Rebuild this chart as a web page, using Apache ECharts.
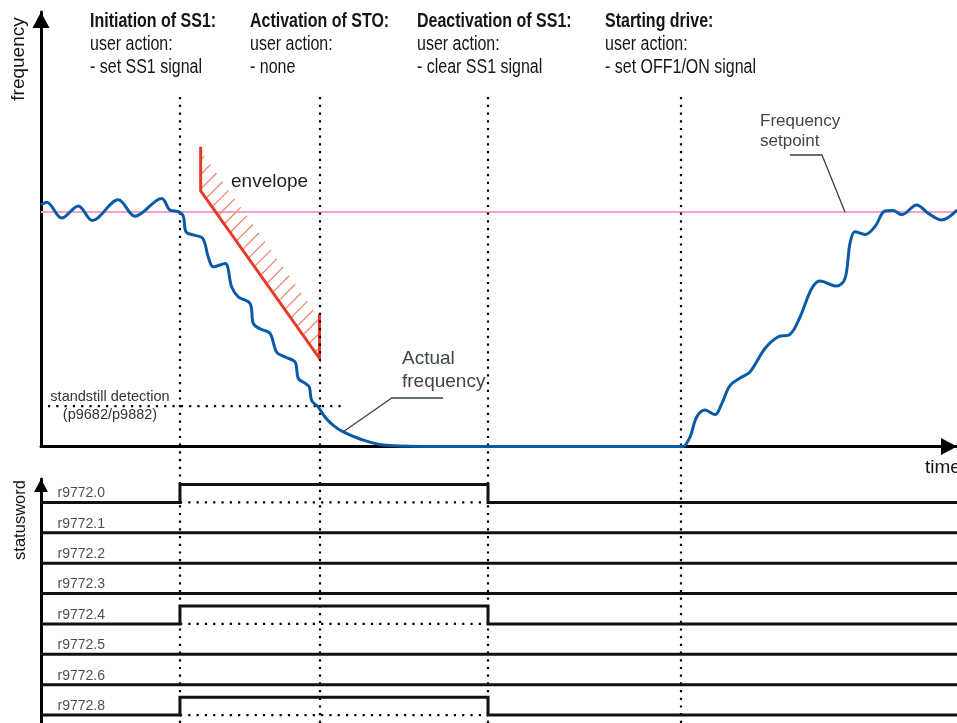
<!DOCTYPE html>
<html>
<head>
<meta charset="utf-8">
<script src="https://cdn.jsdelivr.net/npm/echarts@6/dist/echarts.min.js"></script>
<style>
  html, body { margin: 0; padding: 0; background: #fff; }
  #chart { width: 957px; height: 723px; }
</style>
</head>
<body>
<div id="chart"></div>
<script>
// Time runs on an arbitrary 0..100 scale, frequency in Hz (setpoint 50 Hz).
const setpointHz = 50;
const standstillHz = 8.6;
const standstillSpan = [0.76, 33.0];

// Events: SS1 initiation, STO activation, SS1 deactivation, drive start
const eventTimes = [15.17, 30.4, 48.8, 69.87];
const eventTitles = ['Initiation of SS1:', 'Activation of STO:', 'Deactivation of SS1:', 'Starting drive:'];
const eventActions = ['- set SS1 signal', '- none', '- clear SS1 signal', '- set OFF1/ON signal'];

// Actual frequency trace
const actualTime = [0, 0.62, 2.26, 4.07, 5.60, 8.44, 10.26, 13.18, 14.08, 14.99, 15.53, 15.83, 16.63, 17.65,
  18.26, 18.81, 20.09, 20.82, 21.54, 22.82, 23.18, 23.91, 25.0, 25.73, 26.64, 27.73, 28.09, 28.82, 29.29,
  29.55, 30.27, 31.0, 31.91, 33.0, 34.83, 37.37, 41.4, 69.87, 70.1, 70.85, 71.58, 72.49, 73.58, 74.31,
  75.22, 76.5, 77.4, 79.04, 80.49, 81.77, 82.86, 84.14, 85.04, 86.87, 87.77, 88.32, 88.86, 89.96, 91.05,
  92.14, 93.04, 93.96, 95.6, 96.87, 98.33, 100];
const actualHz = [51.5, 52.1, 48.7, 51.3, 48.2, 52.6, 49.1, 52.9, 50.4, 50.1, 49.1, 45.8, 45.1, 44.4,
  40.4, 38.3, 39.0, 34.0, 31.9, 30.5, 26.2, 25.1, 24.1, 20.1, 19.1, 18.0, 14.5, 13.5, 12.7,
  9.8, 8.4, 6.3, 4.5, 3.1, 1.6, 0.3, 0, 0, 0, 2.0, 6.3, 7.8, 6.8, 9.1,
  13.0, 14.8, 15.9, 20.9, 23.4, 23.9, 27.6, 33.7, 35.3, 34.2, 35.8, 43.3, 45.8, 45.2, 46.9,
  50.2, 50.3, 49.4, 51.5, 49.7, 48.3, 50.4];

// SS1 braking envelope
const envelopeTime = [17.43, 17.43, 30.4, 30.4];
const envelopeHz = [63.9, 54.5, 18.8, 28.2];

// Leader lines for the annotations
const actualLeaderTime = [43.89, 38.29, 33.0];
const actualLeaderHz = [10.34, 10.34, 3.16];
const setpointLeaderTime = [81.77, 85.26, 87.77];
const setpointLeaderHz = [62.15, 62.15, 50];

// Statusword bits
const statusBits = ['r9772.0', 'r9772.1', 'r9772.2', 'r9772.3', 'r9772.4', 'r9772.5', 'r9772.6', 'r9772.8'];
const bitStateTimes = [0, 15.17, 48.8, 100];
const bitLevels = [
  [0, 1, 0, 0],
  [0, 0, 0, 0],
  [0, 0, 0, 0],
  [0, 0, 0, 0],
  [0, 1, 0, 0],
  [0, 0, 0, 0],
  [0, 0, 0, 0],
  [0, 1, 0, 0]
];

const FONT = "'Liberation Sans', Arial, Helvetica, sans-serif";
const freqMax = 92.64;
const rowTop = 7.26, rowStep = 1, rowHigh = 0.59, statusMax = 8.03;

function zip(a, b) { return a.map((v, i) => [v, b[i]]); }

const chart = echarts.init(document.getElementById('chart'), null, { renderer: 'canvas' });

const arrowLine = (size) => ({
  show: true,
  onZero: false,
  lineStyle: { color: '#000', width: 3 },
  symbol: ['none', 'triangle'],
  symbolSize: size,
  symbolOffset: [0, -size[1] / 2]
});

const series = [];

// dotted event markers spanning both panels
series.push({
  type: 'line', xAxisIndex: 2, yAxisIndex: 2, data: [[0, 0]], showSymbol: false,
  lineStyle: { opacity: 0 }, silent: true, z: 1,
  markLine: {
    silent: true, symbol: 'none', label: { show: false },
    lineStyle: { color: '#000', width: 2.2, type: [2.2, 5.5] },
    data: eventTimes.map(t => ({ xAxis: t }))
  }
});

// frequency setpoint
series.push({
  type: 'line', xAxisIndex: 0, yAxisIndex: 0, data: [[0, setpointHz], [100, setpointHz]],
  showSymbol: false, silent: true, z: 2,
  lineStyle: { color: '#f4a0c8', width: 2 }
});

// standstill threshold
series.push({
  type: 'line', xAxisIndex: 0, yAxisIndex: 0,
  data: [[standstillSpan[0], standstillHz], [standstillSpan[1], standstillHz]],
  showSymbol: false, silent: true, z: 2,
  lineStyle: { color: '#000', width: 2.2, type: [2.2, 6.1] }
});

// envelope hatching
series.push({
  type: 'custom', xAxisIndex: 0, yAxisIndex: 0, silent: true, z: 3,
  data: [[envelopeTime[1], envelopeHz[1]]],
  renderItem: function (params, api) {
    const a = api.coord([envelopeTime[1], envelopeHz[1]]);
    const b = api.coord([envelopeTime[2], envelopeHz[2]]);
    const depth = 40;
    const poly = [a, b, [b[0], b[1] - depth], [a[0], a[1] - depth]];
    const sums = poly.map(p => p[0] + p[1]);
    const cMin = Math.min.apply(null, sums), cMax = Math.max.apply(null, sums);
    const step = 14.6;
    const children = [];
    for (let c = cMin + 9; c < cMax; c += step) {
      const pts = [];
      for (let i = 0; i < 4; i++) {
        const p = poly[i], q = poly[(i + 1) % 4];
        const sp = p[0] + p[1] - c, sq = q[0] + q[1] - c;
        if ((sp <= 0 && sq > 0) || (sp > 0 && sq <= 0)) {
          const k = sp / (sp - sq);
          pts.push([p[0] + k * (q[0] - p[0]), p[1] + k * (q[1] - p[1])]);
        }
      }
      if (pts.length >= 2) {
        children.push({
          type: 'line',
          shape: { x1: pts[0][0], y1: pts[0][1], x2: pts[1][0], y2: pts[1][1] },
          style: { stroke: '#ee8064', lineWidth: 1.2 }
        });
      }
    }
    return { type: 'group', children: children };
  }
});

// envelope outline
series.push({
  type: 'line', xAxisIndex: 0, yAxisIndex: 0, data: zip(envelopeTime, envelopeHz),
  showSymbol: false, silent: true, z: 4,
  lineStyle: { color: '#e8392a', width: 3, join: 'miter' }
});

// actual frequency
series.push({
  type: 'line', xAxisIndex: 0, yAxisIndex: 0, data: zip(actualTime, actualHz),
  showSymbol: false, silent: true, z: 5, smooth: 0.35,
  lineStyle: { color: '#0b5aa8', width: 3 }
});

// annotation leaders
[[actualLeaderTime, actualLeaderHz], [setpointLeaderTime, setpointLeaderHz]].forEach(function (l) {
  series.push({
    type: 'line', xAxisIndex: 0, yAxisIndex: 0, data: zip(l[0], l[1]),
    showSymbol: false, silent: true, z: 6,
    lineStyle: { color: '#364242', width: 1.3 }
  });
});

// statusword bit traces
statusBits.forEach(function (name, k) {
  const base = rowTop - k * rowStep;
  const lv = bitLevels[k];
  series.push({
    type: 'line', xAxisIndex: 1, yAxisIndex: 1, step: 'end',
    data: bitStateTimes.map((t, i) => [t, base + lv[i] * rowHigh]),
    showSymbol: false, silent: true, z: 5,
    lineStyle: { color: '#111', width: 3, join: 'miter' }
  });
  for (let i = 0; i < lv.length - 1; i++) {
    if (lv[i] === 1) {
      series.push({
        type: 'line', xAxisIndex: 1, yAxisIndex: 1,
        data: [[bitStateTimes[i], base], [bitStateTimes[i + 1], base]],
        showSymbol: false, silent: true, z: 4,
        lineStyle: { color: '#000', width: 2.2, type: [2.2, 6.1] }
      });
    }
  }
});

// statusword bit names
series.push({
  type: 'scatter', xAxisIndex: 1, yAxisIndex: 1, silent: true, z: 6,
  symbolSize: 1, itemStyle: { color: 'rgba(0,0,0,0)' },
  data: statusBits.map((name, k) => ({ name: name, value: [0, rowTop - k * rowStep] })),
  label: {
    show: true, formatter: '{b}', position: 'right', distance: 0, offset: [16, -9],
    fontFamily: FONT, fontSize: 14, color: '#1e1e1e'
  }
});

// text elements
const graphic = [];
const headX = [90, 250, 417, 605];
eventTitles.forEach(function (title, i) {
  const lines = [
    { t: title, y: 22, w: 'bold' },
    { t: 'user action:', y: 45, w: 'normal' },
    { t: eventActions[i], y: 68, w: 'normal' }
  ];
  lines.forEach(function (ln) {
    graphic.push({
      type: 'text', x: headX[i], y: ln.y, scaleX: 0.82, silent: true,
      style: { text: ln.t, fontFamily: FONT, fontSize: 19.5, fontWeight: ln.w, fill: '#151515',
               align: 'left', verticalAlign: 'middle' }
    });
  });
});

function label(text, x, y, size, color, extra) {
  graphic.push(Object.assign({
    type: 'text', x: x, y: y, silent: true,
    style: { text: text, fontFamily: FONT, fontSize: size, fill: color, align: 'left', verticalAlign: 'middle' }
  }, extra || {}));
}
label('envelope', 231, 182, 19, '#1e1e1e');
label('Actual', 402, 359, 19, '#3d4747');
label('frequency', 402, 382, 19, '#3d4747');
label('Frequency', 760, 121, 17, '#3d4747');
label('setpoint', 760, 141, 17, '#3d4747');
graphic.push({ type: 'text', x: 110, y: 397, silent: true,
  style: { text: 'standstill detection', fontFamily: FONT, fontSize: 14.5, fill: '#333', align: 'center', verticalAlign: 'middle' } });
graphic.push({ type: 'text', x: 110, y: 415, silent: true,
  style: { text: '(p9682/p9882)', fontFamily: FONT, fontSize: 14.5, fill: '#333', align: 'center', verticalAlign: 'middle' } });
label('time', 925, 468, 19, '#151515');
graphic.push({ type: 'text', x: 19, y: 59, rotation: Math.PI / 2, silent: true,
  style: { text: 'frequency', fontFamily: FONT, fontSize: 19, fill: '#151515', align: 'center', verticalAlign: 'middle' } });
graphic.push({ type: 'text', x: 20, y: 520, rotation: Math.PI / 2, silent: true,
  style: { text: 'statusword', fontFamily: FONT, fontSize: 16.5, fill: '#151515', align: 'center', verticalAlign: 'middle' } });

chart.setOption({
  animation: false,
  backgroundColor: '#fff',
  grid: [
    { left: 41, right: 0, top: 12, height: 434.5 },
    { left: 41, right: 0, top: 479, bottom: 0 },
    { left: 41, right: 0, top: 92, bottom: 0 }
  ],
  xAxis: [
    { gridIndex: 0, type: 'value', min: 0, max: 100, axisLine: arrowLine([17, 16]),
      axisTick: { show: false }, axisLabel: { show: false }, splitLine: { show: false } },
    { gridIndex: 1, type: 'value', min: 0, max: 100, show: false },
    { gridIndex: 2, type: 'value', min: 0, max: 100, show: false }
  ],
  yAxis: [
    { gridIndex: 0, type: 'value', min: 0, max: freqMax, axisLine: arrowLine([17, 16]),
      axisTick: { show: false }, axisLabel: { show: false }, splitLine: { show: false } },
    { gridIndex: 1, type: 'value', min: 0, max: statusMax, axisLine: arrowLine([14, 13]),
      axisTick: { show: false }, axisLabel: { show: false }, splitLine: { show: false } },
    { gridIndex: 2, type: 'value', min: 0, max: 1, show: false }
  ],
  graphic: graphic,
  series: series
});
</script>
</body>
</html>
